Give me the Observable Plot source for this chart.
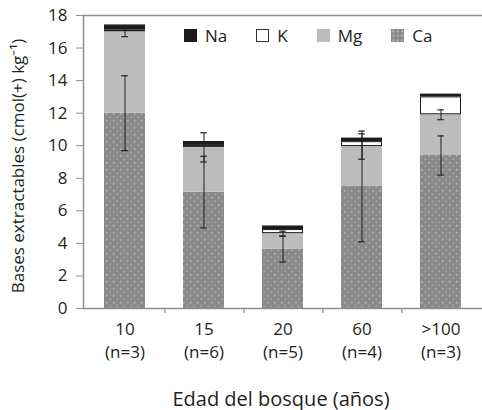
<!DOCTYPE html>
<html><head><meta charset="utf-8">
<script src="https://cdn.jsdelivr.net/npm/d3@7"></script>
<script src="https://cdn.jsdelivr.net/npm/@observablehq/plot@0.6"></script>
<style>
  html,body{margin:0;padding:0;background:#fff;overflow:hidden;}
  #wrap{position:relative;width:482px;height:410px;font-family:"Open Sans",sans-serif;color:#231f20;}
  #legend{position:absolute;top:24px;left:184px;display:flex;align-items:center;font-size:17px;}
  #legend .it{display:flex;align-items:center;margin-right:29px;}
  #legend .sw{width:13px;height:13px;margin-right:8px;box-sizing:border-box;}
</style>
</head><body>
<div id="wrap"><div id="legend"></div></div>
<script>
const categories = ["10", "15", "20", "60", ">100"];
const nSamples = [3, 6, 5, 4, 3];
const series = ["Na", "K", "Mg", "Ca"];       // legend order
const Ca = [12.0, 7.15, 3.65, 7.5, 9.4];
const Mg = [5.0, 2.75, 0.95, 2.45, 2.5];
const K  = [0.12, 0.12, 0.25, 0.3, 1.1];
const Na = [0.3, 0.24, 0.22, 0.22, 0.17];
const caSD = [2.3, 2.2, 0.8, 3.4, 1.2];
const mgSD = [0.3, 0.9, 0.15, 0.78, 0.3];
const yTicks = [0, 2, 4, 6, 8, 10, 12, 14, 16, 18];
const yTitle = "Bases extractables (cmol(+) kg\u207B\u00B9)";
const xTitle = "Edad del bosque (años)";

const fills = {Ca: "url(#caDots)", Mg: "#bcbcbc", K: "#ffffff", Na: "#1c1c1c"};
const stackOrder = ["Ca", "Mg", "K", "Na"];
const values = {Ca, Mg, K, Na};

const segs = [];
categories.forEach((c, i) => {
  let base = 0;
  for (const s of stackOrder) {
    const v = values[s][i];
    segs.push({cat: c, series: s, y1: base, y2: base + v});
    base += v;
  }
});
const errs = [];
categories.forEach((c, i) => {
  errs.push({cat: c, mid: Ca[i], sd: caSD[i]});
  errs.push({cat: c, mid: Ca[i] + Mg[i], sd: mgSD[i]});
});

const W = 482, H = 410, mL = 83, mR = 0, mT = 15, mB = 102;
const step = (W - mL - mR) / categories.length;
const padIn = 0.48;
const bw = step * (1 - padIn);
const capW = 7;
const capInset = (bw - capW) / 2;

const ink = "#231f20";
const axisGray = "#8f8f8f";

const marks = [];
for (const s of stackOrder) {
  marks.push(Plot.rectY(segs.filter(d => d.series === s), {
    x: "cat", y1: "y1", y2: "y2", fill: fills[s],
    stroke: s === "K" ? "#1c1c1c" : "none", strokeWidth: 1,
    insetTop: s === "K" ? 0.5 : 0, insetBottom: s === "K" ? 0.5 : 0,
    insetLeft: s === "K" ? 0.5 : 0, insetRight: s === "K" ? 0.5 : 0
  }));
}
marks.push(
  Plot.ruleX(errs, {x: "cat", y1: d => d.mid - d.sd, y2: d => d.mid + d.sd, stroke: ink, strokeWidth: 1}),
  Plot.tickY(errs, {x: "cat", y: d => d.mid + d.sd, stroke: ink, strokeWidth: 1.2, insetLeft: capInset, insetRight: capInset}),
  Plot.tickY(errs, {x: "cat", y: d => d.mid - d.sd, stroke: ink, strokeWidth: 1.2, insetLeft: capInset, insetRight: capInset}),
  Plot.ruleY([0, 18], {stroke: axisGray, strokeWidth: 1.5}),
  Plot.frame({anchor: "left", stroke: axisGray, strokeWidth: 1.5}),
  Plot.ruleX(categories.slice(0, -1), {x: d => d, y1: 0, y2: 0, dx: step / 2, insetBottom: -5, stroke: axisGray, strokeWidth: 1.2}),
  Plot.axisY({ticks: yTicks, tickSize: 7, tickPadding: 9, stroke: axisGray, fill: ink, fontSize: 17, label: null}),
  Plot.axisX({tickSize: 0, tickPadding: 14, fill: ink, fontSize: 17, label: null}),
  Plot.axisX({tickSize: 0, tickPadding: 37.5, fill: ink, fontSize: 17, label: null,
    tickFormat: (c) => "(n=" + nSamples[categories.indexOf(c)] + ")"}),
  Plot.text([yTitle], {text: d => d, frameAnchor: "left", textAnchor: "middle", rotate: -90, dx: -65, dy: 4, fontSize: 17, fill: ink}),
  Plot.text([xTitle], {text: d => d, frameAnchor: "bottom", dy: 97, dx: -2, fontSize: 20, fill: ink})
);

const chart = Plot.plot({
  width: W, height: H,
  marginLeft: mL, marginRight: mR, marginTop: mT, marginBottom: mB,
  style: {fontFamily: "'Open Sans', sans-serif", color: ink, background: "#fff", overflow: "visible"},
  x: {domain: categories, paddingInner: padIn, paddingOuter: padIn / 2, axis: null},
  y: {domain: [0, 18], axis: null},
  marks
});

const svg = d3.select(chart.tagName.toLowerCase() === "svg" ? chart : chart.querySelector("svg"));
const defs = svg.insert("defs", ":first-child");
const pat = defs.append("pattern").attr("id", "caDots").attr("patternUnits", "userSpaceOnUse")
  .attr("width", 7).attr("height", 7);
pat.append("rect").attr("width", 7).attr("height", 7).attr("fill", "#8a8a8a");
pat.append("circle").attr("cx", 1.75).attr("cy", 1.75).attr("r", 0.9).attr("fill", "#b4b4b4");
pat.append("circle").attr("cx", 5.25).attr("cy", 5.25).attr("r", 0.9).attr("fill", "#a8a8a8");

const wrap = document.getElementById("wrap");
wrap.insertBefore(chart, wrap.firstChild);

const legendSw = {
  Na: "background:#1c1c1c;",
  K: "background:#fff;border:1px solid #333;",
  Mg: "background:#bcbcbc;",
  Ca: "background-color:#8a8a8a;background-image:radial-gradient(circle,#b4b4b4 0.9px,transparent 1.2px);background-size:4.5px 4.5px;"
};
const leg = d3.select("#legend");
for (const s of series) {
  const it = leg.append("div").attr("class", "it");
  it.append("div").attr("class", "sw").attr("style", legendSw[s]);
  it.append("span").text(s);
}
</script>
</body></html>
